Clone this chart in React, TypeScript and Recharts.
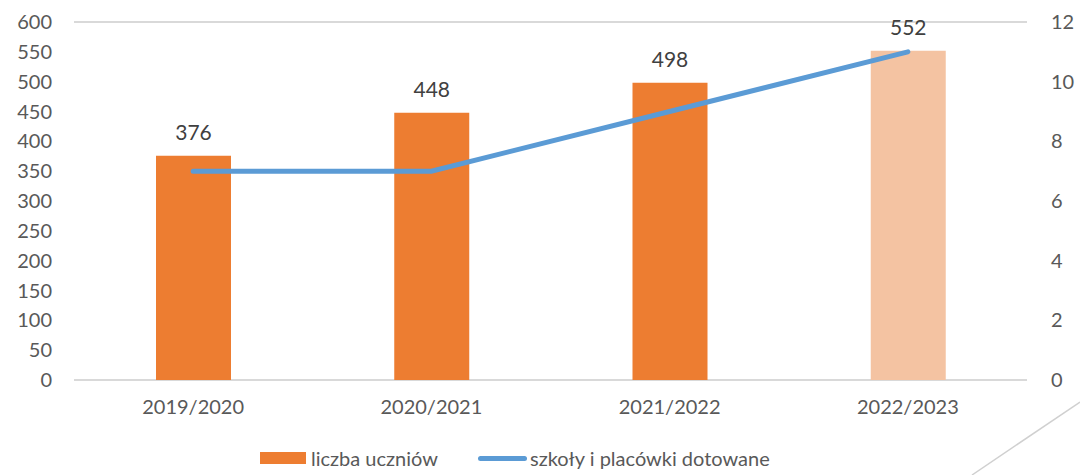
import {
	Bar,
	CartesianGrid,
	Cell,
	ComposedChart,
	LabelList,
	Legend,
	Line,
	XAxis,
	YAxis,
} from "recharts";

const years = ["2019/2020", "2020/2021", "2021/2022", "2022/2023"];
const students = [376, 448, 498, 552];
const schools = [7, 7, 9, 11];
const leftTicks = [0, 50, 100, 150, 200, 250, 300, 350, 400, 450, 500, 550, 600];
const rightTicks = [0, 2, 4, 6, 8, 10, 12];

const barColors = ["#ED7D31", "#ED7D31", "#ED7D31", "#F4C3A2"];
const lineColor = "#5B9BD5";
const textColor = "#595959";
const font = "Lato, 'Open Sans', sans-serif";

const data = years.map((year, i) => ({
	year,
	students: students[i],
	schools: schools[i],
}));

function ChartLegend() {
	return (
		<div
			style={{
				display: "flex",
				justifyContent: "flex-start",
				alignItems: "center",
				height: 30,
				fontFamily: font,
				fontSize: 20,
				color: textColor,
				paddingLeft: 260,
			}}
		>
			<span
				style={{
					display: "inline-block",
					width: 46,
					height: 12,
					background: "#ED7D31",
					marginRight: 5,
				}}
			/>
			<span style={{ marginRight: 40 }}>liczba uczniów</span>
			<span
				style={{
					display: "inline-block",
					width: 49,
					height: 5,
					borderRadius: 3,
					background: lineColor,
					marginRight: 3,
				}}
			/>
			<span>szkoły i placówki dotowane</span>
		</div>
	);
}

export default function App() {
	return (
		<div
			style={{
				position: "fixed",
				top: 0,
				left: 0,
				width: 1080,
				height: 475,
				background: "#fff",
			}}
		>
			<ComposedChart
				width={1080}
				height={475}
				data={data}
				margin={{ top: 22, right: 0, bottom: 2, left: 0 }}
			>
				<CartesianGrid vertical={false} stroke="#D9D9D9" strokeWidth={2} />
				<XAxis
					dataKey="year"
					axisLine={false}
					tickLine={false}
					height={63}
					tickMargin={14}
					tick={{ fill: textColor, fontSize: 20, fontFamily: font }}
				/>
				<YAxis
					yAxisId="left"
					domain={[0, 600]}
					ticks={leftTicks}
					interval={0}
					width={74}
					axisLine={false}
					tickLine={false}
					tickMargin={16}
					tick={{ fill: textColor, fontSize: 20, fontFamily: font }}
				/>
				<YAxis
					yAxisId="right"
					orientation="right"
					domain={[0, 12]}
					ticks={rightTicks}
					interval={0}
					width={53}
					axisLine={false}
					tickLine={false}
					tickMargin={18}
					tick={{ fill: textColor, fontSize: 20, fontFamily: font }}
				/>
				<Legend verticalAlign="bottom" content={<ChartLegend />} />
				<Bar
					yAxisId="left"
					dataKey="students"
					name="liczba uczniów"
					barSize={75}
					isAnimationActive={false}
				>
					{data.map((d, i) => (
						<Cell key={d.year} fill={barColors[i]} />
					))}
					<LabelList
						dataKey="students"
						position="top"
						offset={16}
						fill="#404040"
						fontSize={21}
						fontFamily={font}
					/>
				</Bar>
				<Line
					yAxisId="right"
					type="linear"
					dataKey="schools"
					name="szkoły i placówki dotowane"
					stroke={lineColor}
					strokeWidth={5}
					strokeLinecap="round"
					dot={false}
					activeDot={false}
					isAnimationActive={false}
				/>
			</ComposedChart>
			<svg
				width={1080}
				height={475}
				style={{ position: "absolute", top: 0, left: 0, pointerEvents: "none" }}
			>
				<line x1={1080} y1={402} x2={972} y2={475} stroke="#D0D0D0" strokeWidth={1.5} />
			</svg>
		</div>
	);
}
